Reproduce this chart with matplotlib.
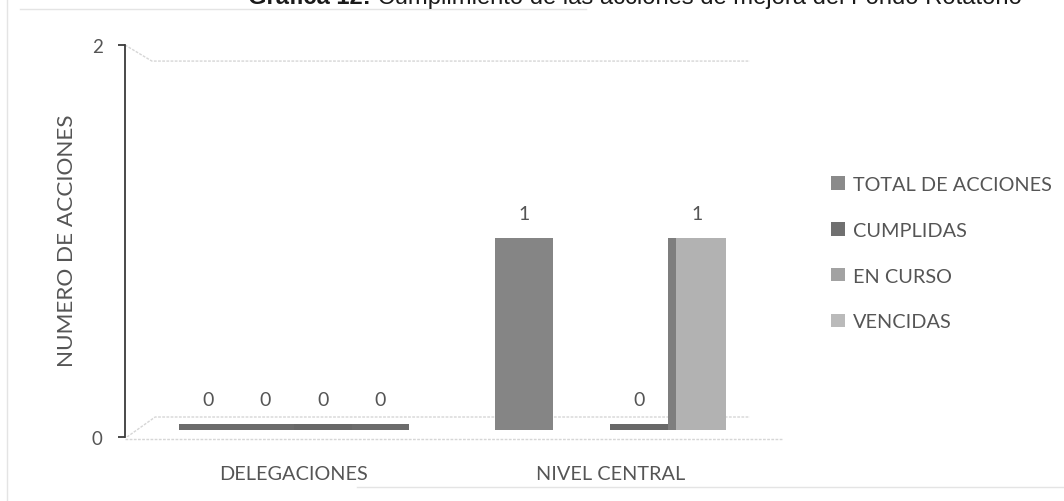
import matplotlib
matplotlib.use('Agg')

import numpy as np
import matplotlib.pyplot as plt
from matplotlib.patches import Patch, Rectangle
from matplotlib.lines import Line2D

# ---- data ----
categories = ["DELEGACIONES", "NIVEL CENTRAL"]
series_names = ["TOTAL DE ACCIONES", "CUMPLIDAS", "EN CURSO", "VENCIDAS"]
total_acciones = [0, 1]
cumplidas = [0, np.nan]      # no value reported for nivel central
en_curso = [0, 0]
vencidas = [0, 1]
series_values = [total_acciones, cumplidas, en_curso, vencidas]

y_ticks = [0, 2]
title_bold = "Gráfica 12:"
title_rest = " Cumplimiento de las acciones de mejora del Fondo Rotatorio"

# ---- styles ----
bar_colors = ["#858585", "#6f6f6f", "#8c8c8c", "#b2b2b2"]
slab_colors = ["#6c6c6c", "#6c6c6c", "#686868", "#6c6c6c"]
legend_colors = ["#8a8a8a", "#707070", "#a2a2a2", "#bababa"]
text_gray = "#555555"
wall_gray = "#d6d6d6"
FONT = ["Lato", "DejaVu Sans"]

plt.rcParams['font.family'] = FONT

W, H = 1064, 502
fig = plt.figure(figsize=(W / 100, H / 100), dpi=100)

def box(left, right, bottom, top):
    # pixel box (top-left origin) -> figure fraction rect
    return [left / W, 1 - bottom / H, (right - left) / W, (bottom - top) / H]

x_min, x_max = -0.534, 1.536
bar_w = 0.182

# front plane: axis line, ticks, category labels, floor edges
ax_front = fig.add_axes(box(125, 780, 438, 46))
ax_front.set_xlim(x_min, x_max)
ax_front.set_ylim(0, 2)
ax_front.patch.set_alpha(0)
for side in ["top", "right", "bottom"]:
    ax_front.spines[side].set_visible(False)
ax_front.spines["left"].set_color("#3c3c3c")
ax_front.spines["left"].set_linewidth(1.3)
ax_front.set_yticks(y_ticks)
ax_front.set_yticklabels([str(t) for t in y_ticks])
ax_front.tick_params(axis="y", length=5, width=1.3, color="#3c3c3c",
                     pad=11, labelsize=13.5, labelcolor=text_gray)
ax_front.set_xticks(range(len(categories)))
ax_front.set_xticklabels(categories)
ax_front.tick_params(axis="x", length=0, pad=20, labelsize=14.3,
                     labelcolor=text_gray)

# back wall top edge and floor outline
tr = ax_front.transAxes
ax_front.add_line(Line2D([0, 0.041, 0.954], [1.0, 0.959, 0.959], transform=tr,
                         color=wall_gray, lw=1.0, ls=(0, (2, 1))))
ax_front.add_line(Line2D([0.003, 0.046, 0.954], [0.0, 0.051, 0.051], transform=tr,
                         color=wall_gray, lw=1.0, ls=(0, (2, 1))))
ax_front.add_line(Line2D([0, 1.003], [-0.005, -0.005], transform=tr,
                         color=wall_gray, lw=1.0, ls=(0, (2, 1)), clip_on=False))

# bars sit slightly behind the front plane
ax = fig.add_axes(box(125, 780, 431, 47))
ax.set_xlim(x_min, x_max)
ax.set_ylim(0, 2)
ax.axis("off")

x = np.arange(len(categories))
offsets = (np.arange(len(series_names)) - 1.5) * bar_w
for i, vals in enumerate(series_values):
    vals = np.asarray(vals, dtype=float)
    pos = x + offsets[i]
    ok = ~np.isnan(vals)
    bars = ax.bar(pos[ok], vals[ok], width=bar_w, color=bar_colors[i],
                  edgecolor="none", zorder=3)
    for b, v in zip(bars, vals[ok]):
        if v == 0:
            # zero values show as a flat slab on the floor
            ax.add_patch(Rectangle((b.get_x(), 0), b.get_width(), 0.03,
                                   color=slab_colors[i], zorder=3, lw=0))
        label_y = v + (0.03 if v == 0 else 0)
        ax.annotate(f"{v:g}", (b.get_x() + b.get_width() / 2, label_y),
                    xytext=(0, 18), textcoords="offset points",
                    ha="center", va="center", fontsize=14, color=text_gray)

# darker side face on the right-hand bars
for xi, v in zip(x + offsets[3], vencidas):
    if v > 0:
        ax.add_patch(Rectangle((xi - bar_w / 2, 0), 0.024, v,
                               color="#7e7e7e", zorder=4, lw=0))

# y axis title
fig.text(67 / W, 1 - 241 / H, "NUMERO DE ACCIONES", rotation=90,
         ha="center", va="center", fontsize=16.2, color=text_gray)

# legend
handles = [Patch(facecolor=c, edgecolor="none") for c in legend_colors]
fig.legend(handles, series_names, loc="upper left",
           bbox_to_anchor=(831 / W, 1 - 177 / H), frameon=False,
           fontsize=14.3, labelcolor=text_gray, handlelength=0.68,
           handleheight=0.68, handletextpad=0.42, labelspacing=1.45,
           borderpad=0, borderaxespad=0)

# title (top half falls outside the page)
renderer = fig.canvas.get_renderer()
t1 = fig.text(248 / W, 1 - 4 / H, title_bold, ha="left", va="baseline",
              fontsize=17.1, fontweight="bold", color="#1a1a1a",
              family=["Liberation Sans", "DejaVu Sans"])
bb = t1.get_window_extent(renderer)
fig.text(bb.x1 / W, 1 - 4 / H, title_rest, ha="left", va="baseline",
         fontsize=17.1, color="#1a1a1a", family=["Liberation Sans", "DejaVu Sans"])

# faint outer border of the chart area
border = "#e4e4e4"
fig.add_artist(Line2D([7 / W, 7 / W], [0, 1], transform=fig.transFigure,
                      color=border, lw=1))
fig.add_artist(Line2D([20 / W, 586 / W], [1 - 10 / H, 1 - 10 / H],
                      transform=fig.transFigure, color=border, lw=1))
fig.add_artist(Line2D([357 / W, 1], [1 - 488 / H, 1 - 488 / H],
                      transform=fig.transFigure, color=border, lw=1))

fig.savefig("out.png", dpi=100, facecolor="white")
